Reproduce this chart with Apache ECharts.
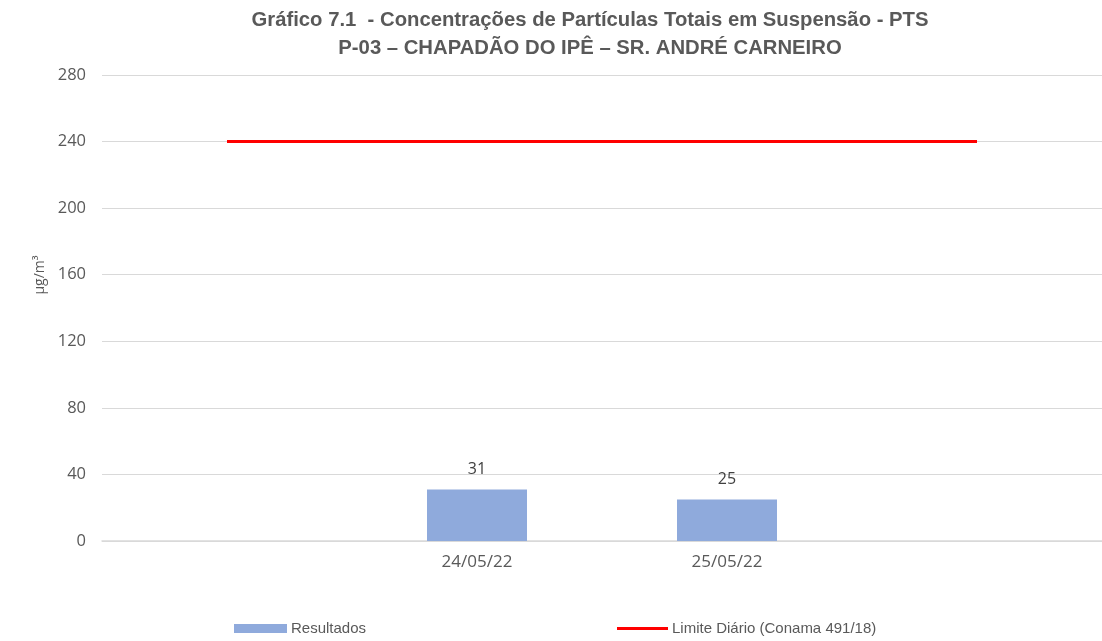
<!DOCTYPE html>
<html><head><meta charset="utf-8">
<script src="https://cdn.jsdelivr.net/npm/echarts@6/dist/echarts.min.js"></script>
<style>html,body{margin:0;padding:0;background:#fff}#c{width:1102px;height:641px}</style>
</head><body><div id="c"></div>
<script>
var categories = ['', '24/05/22', '25/05/22', ''];
var resultados = [null, 31, 25, null];
var limite = [240, 240, 240, 240];
var yTicks = [0, 40, 80, 120, 160, 200, 240, 280];

var chart = echarts.init(document.getElementById('c'));
var font = '"Liberation Sans", sans-serif';
var ofont = '"Open Sans", sans-serif';
chart.setOption({
  animation: false,
  title: {
    text: 'Gráfico 7.1  - Concentrações de Partículas Totais em Suspensão - PTS\nP-03 – CHAPADÃO DO IPÊ – SR. ANDRÉ CARNEIRO',
    left: 585, top: 1, textAlign: 'center',
    textStyle: {fontFamily: font, fontSize: 20.3, fontWeight: 'bold', color: '#595959', lineHeight: 28}
  },
  legend: [{
    data: [{name: 'Resultados', icon: 'rect'}],
    left: 234, top: 621, padding: 0, itemWidth: 53, itemHeight: 9, itemGap: 4,
    textStyle: {fontFamily: font, fontSize: 15, color: '#595959', padding: [0,0,0,-1]}
  }, {
    data: [{name: 'Limite Diário (Conama 491/18)', icon: 'rect'}],
    left: 617, top: 621, padding: 0, itemWidth: 51, itemHeight: 3, itemGap: 4,
    textStyle: {fontFamily: font, fontSize: 15, color: '#595959', padding: [0,0,0,-1]}
  }],
  graphic: [{
    type: 'text', x: 40, y: 275, rotation: Math.PI / 2,
    style: {text: 'µg/m³', fontFamily: ofont, fontSize: 14, fill: '#595959', align: 'center', verticalAlign: 'middle'}
  }],
  grid: {left: 102, width: 1004, top: 75, bottom: 100},
  xAxis: {
    type: 'category', data: categories,
    axisLine: {show: true, lineStyle: {color: '#d9d9d9', width: 1.5}},
    axisTick: {show: false},
    axisLabel: {fontFamily: ofont, fontSize: 17, color: '#595959', margin: 13},
    splitLine: {show: false}
  },
  yAxis: {
    type: 'value', min: yTicks[0], max: yTicks[yTicks.length-1], interval: 40,
    axisLine: {show: false}, axisTick: {show: false},
    axisLabel: {fontFamily: ofont, fontSize: 16.5, color: '#595959', margin: 16},
    splitLine: {lineStyle: {color: '#d9d9d9', width: 1}}
  },
  series: [{
    name: 'Resultados', type: 'bar', data: resultados, barWidth: '40%',
    itemStyle: {color: '#8faadc'},
    label: {show: true, position: 'top', distance: 12, fontFamily: ofont, fontSize: 16, color: '#404040'}
  }, {
    name: 'Limite Diário (Conama 491/18)', type: 'line', data: limite,
    symbol: 'none', lineStyle: {color: '#ff0000', width: 3}, itemStyle: {color: '#ff0000'}
  }]
});
</script></body></html>
